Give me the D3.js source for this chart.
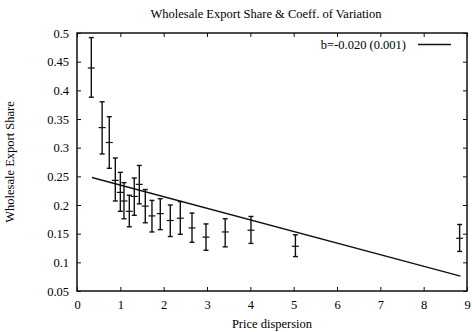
<!DOCTYPE html>
<html>
<head>
<meta charset="utf-8">
<script src="https://cdn.jsdelivr.net/npm/d3@7"></script>
<style>
  body { margin: 0; background: #fff; }
  svg text { font-family: "Liberation Serif", "Times New Roman", serif !important; fill: #000; }
</style>
</head>
<body>
<div id="container"></div>
<script>
// data
const priceDispersion = [0.33, 0.58, 0.745, 0.884, 1.0, 1.084, 1.207, 1.322, 1.438, 1.576, 1.73, 1.922, 2.153, 2.384, 2.654, 2.977, 3.42, 4.015, 5.04, 8.83];
const exportShare     = [0.439, 0.335, 0.309, 0.243, 0.222, 0.207, 0.189, 0.215, 0.236, 0.198, 0.181, 0.185, 0.173, 0.177, 0.160, 0.144, 0.153, 0.156, 0.128, 0.142];
const shareLow        = [0.388, 0.289, 0.264, 0.207, 0.189, 0.176, 0.162, 0.182, 0.202, 0.169, 0.153, 0.157, 0.145, 0.149, 0.135, 0.121, 0.127, 0.133, 0.110, 0.119];
const shareHigh       = [0.492, 0.380, 0.354, 0.282, 0.257, 0.239, 0.217, 0.247, 0.269, 0.227, 0.208, 0.211, 0.200, 0.206, 0.186, 0.167, 0.176, 0.180, 0.148, 0.166];
const fitX = [0.345, 8.85];
const fitY = [0.248, 0.076];
const xTicks = [0, 1, 2, 3, 4, 5, 6, 7, 8, 9];
const yTicks = [0.05, 0.1, 0.15, 0.2, 0.25, 0.3, 0.35, 0.4, 0.45, 0.5];
const legendLabel = "b=-0.020 (0.001)";

const width = 472, height = 332;
const marginLeft = 77, marginRight = 5, marginTop = 33, marginBottom = 41;
const ink = "#111";
const fontSize = "12.5px";

const x = d3.scaleLinear().domain([0, 9]).range([marginLeft, width - marginRight]);
const y = d3.scaleLinear().domain([0.05, 0.5]).range([height - marginBottom, marginTop]);

const svg = d3.create("svg").attr("width", width).attr("height", height);

// ticks drawn inward, mirrored on all sides (gnuplot style)
const tickLen = 4;
function axis(gen, tr, vals, fmt, pad) {
    return svg.append("g")
        .attr("transform", tr)
        .call(gen.tickValues(vals).tickFormat(fmt).tickSizeInner(-tickLen).tickSizeOuter(0).tickPadding(pad))
        .attr("font-family", "Liberation Serif")
        .attr("font-size", fontSize)
        .call(g => g.select(".domain").remove())
        .call(g => g.selectAll("line").attr("stroke", ink).attr("stroke-width", 1));
}
axis(d3.axisBottom(x), `translate(0,${height - marginBottom})`, xTicks, d3.format("d"), 9);
axis(d3.axisTop(x), `translate(0,${marginTop})`, xTicks, "", 6);
axis(d3.axisLeft(y), `translate(${marginLeft},0)`, yTicks, d3.format("~g"), 8);
axis(d3.axisRight(y), `translate(${width - marginRight},0)`, yTicks, "", 6);

// frame
svg.append("rect")
    .attr("x", marginLeft).attr("y", marginTop)
    .attr("width", width - marginLeft - marginRight)
    .attr("height", height - marginTop - marginBottom)
    .attr("fill", "none").attr("stroke", ink).attr("stroke-width", 1.5);

// fit line
svg.append("path")
    .datum(fitX.map((v, i) => [v, fitY[i]]))
    .attr("fill", "none").attr("stroke", ink).attr("stroke-width", 1.4)
    .attr("d", d3.line().x(d => x(d[0])).y(d => y(d[1])));

// error bars
const pts = priceDispersion.map((v, i) => ({ x: v, y: exportShare[i], lo: shareLow[i], hi: shareHigh[i] }));
const bars = svg.append("g").attr("stroke", ink).attr("stroke-width", 1.4);
const cap = 2.5, cross = 3.5;
pts.forEach(d => {
    const cx = x(d.x);
    bars.append("line").attr("x1", cx).attr("x2", cx).attr("y1", y(d.lo)).attr("y2", y(d.hi));
    bars.append("line").attr("x1", cx - cap).attr("x2", cx + cap).attr("y1", y(d.lo)).attr("y2", y(d.lo));
    bars.append("line").attr("x1", cx - cap).attr("x2", cx + cap).attr("y1", y(d.hi)).attr("y2", y(d.hi));
    bars.append("line").attr("x1", cx - cross).attr("x2", cx + cross).attr("y1", y(d.y)).attr("y2", y(d.y)).attr("stroke-width", 1.2);
});

// legend
svg.append("text")
    .attr("x", 406).attr("y", 49)
    .attr("text-anchor", "end")
    .style("font-size", fontSize)
    .text(legendLabel);
svg.append("line")
    .attr("x1", 418).attr("x2", 451).attr("y1", 44.5).attr("y2", 44.5)
    .attr("stroke", ink).attr("stroke-width", 1.4);

// titles
svg.append("text")
    .attr("x", 266).attr("y", 18)
    .attr("text-anchor", "middle")
    .style("font-size", fontSize)
    .text("Wholesale Export Share & Coeff. of Variation");

svg.append("text")
    .attr("x", 272).attr("y", 328)
    .attr("text-anchor", "middle")
    .style("font-size", fontSize)
    .text("Price dispersion");

svg.append("text")
    .attr("transform", `translate(14,${(marginTop + height - marginBottom) / 2}) rotate(-90)`)
    .attr("text-anchor", "middle")
    .style("font-size", fontSize)
    .text("Wholesale Export Share");

document.getElementById("container").append(svg.node());
</script>
</body>
</html>
